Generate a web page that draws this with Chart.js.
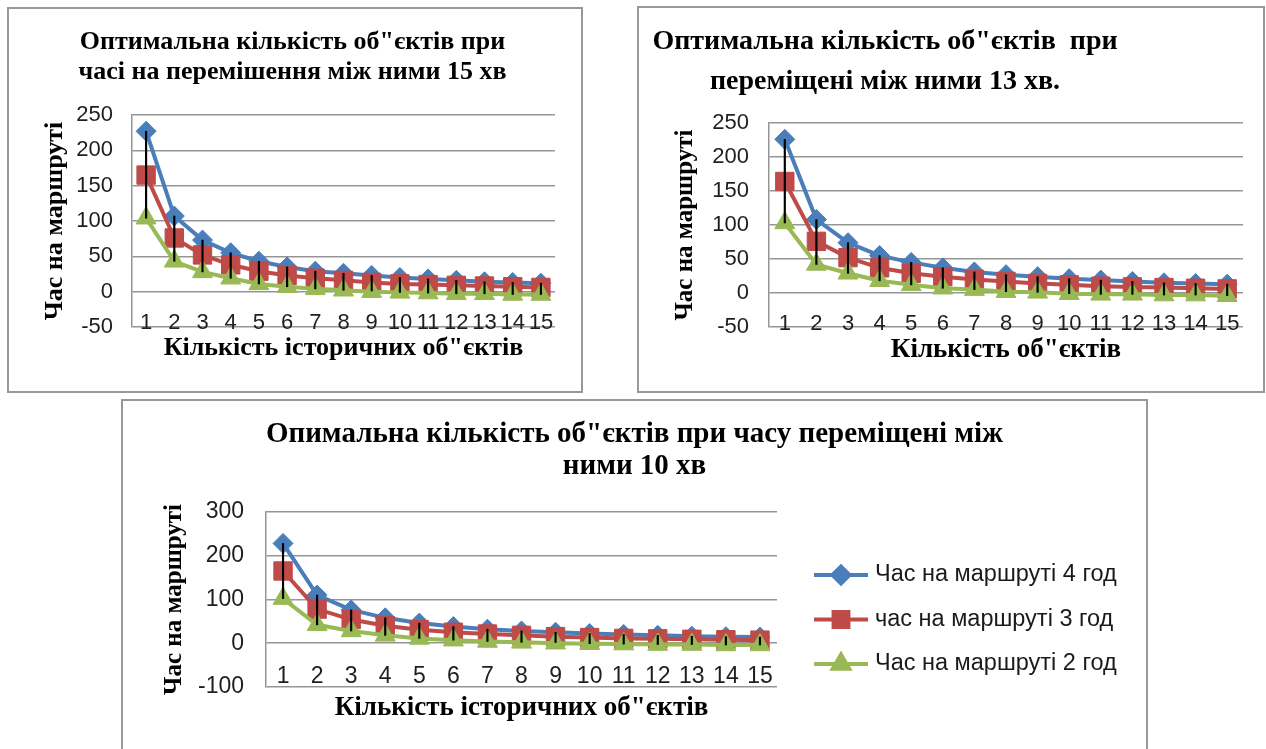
<!DOCTYPE html>
<html>
<head>
<meta charset="utf-8">
<script src="https://cdn.jsdelivr.net/npm/chart.js@4.4.1/dist/chart.umd.min.js"></script>
<style>
  html, body { margin: 0; padding: 0; background: #fff; overflow: hidden; }
  body { width: 1266px; height: 749px; position: relative; }
  .box { position: absolute; box-sizing: border-box; border: 2px solid #999; background: #fff; }
  .box canvas { display: block; }
  #box15 { left: 7px; top: 7px; width: 576px; height: 386px; }
  #box13 { left: 637px; top: 6px; width: 628px; height: 387px; }
  #box10 { left: 121px; top: 399px; width: 1027px; height: 362px; }
</style>
</head>
<body>
<div class="box" id="box15"><canvas id="chart15" width="572" height="382"></canvas></div>
<div class="box" id="box13"><canvas id="chart13" width="624" height="383"></canvas></div>
<div class="box" id="box10"><canvas id="chart10" width="1023" height="348"></canvas></div>
<script>
// categories: кількість об'єктів
const categories = ["1", "2", "3", "4", "5", "6", "7", "8", "9", "10", "11", "12", "13", "14", "15"];

const seriesNames = ["Час на маршруті 4 год", "час на маршруті 3 год", "Час на маршруті 2 год"];

// 15 хв між об'єктами
const blue15 = [227, 107, 73, 55, 43, 35, 29, 26, 23, 20, 18, 16, 14, 13, 12];
const red15 = [165, 76, 52, 38, 29, 23, 19, 16, 13, 11, 10, 9, 8, 7, 6];
const green15 = [104, 43, 28, 19, 11, 7, 4, 2, 0, -1, -2, -3, -3, -4, -4];

// 13 хв
const blue13 = [226, 108, 74, 55, 45, 37, 31, 27, 24, 21, 19, 17, 15, 14, 13];
const red13 = [164, 76, 52, 37, 29, 24, 20, 17, 14, 12, 10, 9, 8, 7, 6];
const green13 = [103, 42, 29, 18, 12, 7, 5, 2, 1, -1, -2, -2, -3, -3, -4];

// 10 хв
const blue10 = [228, 110, 76, 58, 46, 38, 32, 28, 25, 22, 20, 18, 16, 15, 14];
const red10 = [165, 78, 54, 40, 31, 25, 21, 18, 15, 13, 11, 10, 9, 8, 7];
const green10 = [102, 42, 28, 18, 11, 7, 4, 2, 0, -1, -2, -3, -3, -4, -4];

const yTicks15 = { min: -50, max: 250, step: 50 };
const yTicks13 = { min: -50, max: 250, step: 50 };
const yTicks10 = { min: -100, max: 300, step: 100 };

const serif = "'Liberation Serif', 'Times New Roman', serif";
const sans = "'Liberation Sans', Arial, sans-serif";
const gridGray = "#959595";

// shift the title horizontally without touching the plot area
const titleShift = {
    id: "titleShift",
    afterLayout(chart, args, opts) {
        const t = chart.titleBlock;
        if (t && opts.centerX != null) {
            const half = chart.width / 2;
            t.left = opts.centerX - half;
            t.right = opts.centerX + half;
        }
    }
};

// excel-like legend: line with marker, then the label
const lineLegend = {
    id: "lineLegend",
    afterDraw(chart, args, opts) {
        if (!opts.show) return;
        const ctx = chart.ctx;
        let y = opts.y;
        chart.data.datasets.forEach((ds, i) => {
            if (ds.type === "bar") return;
            ctx.save();
            ctx.strokeStyle = ds.borderColor;
            ctx.lineWidth = ds.borderWidth;
            ctx.beginPath();
            ctx.moveTo(opts.x, y);
            ctx.lineTo(opts.x + opts.lineLen, y);
            ctx.stroke();
            ctx.fillStyle = ds.pointBackgroundColor;
            ctx.strokeStyle = ds.pointBorderColor;
            Chart.helpers.drawPoint(ctx, { pointStyle: ds.pointStyle, radius: opts.radius[i], borderWidth: 1, rotation: 0 }, opts.x + opts.lineLen / 2, y);
            ctx.fillStyle = "#1a1a1a";
            ctx.font = opts.size + "px " + sans;
            ctx.textBaseline = "middle";
            ctx.textAlign = "left";
            ctx.fillText(ds.label, opts.x + opts.lineLen + opts.gap, y);
            ctx.restore();
            y += opts.spacing;
        });
    }
};

function lineSet(label, data, color, style, radius, order) {
    return {
        type: "line", label: label, data: data, order: order,
        borderColor: color, borderWidth: 4, tension: 0,
        pointStyle: style, pointRadius: radius, pointHoverRadius: radius,
        pointBackgroundColor: color, pointBorderColor: color, pointBorderWidth: 1
    };
}

function renderChart(canvasId, s) {
    const ctx = document.getElementById(canvasId);
    const hiLo = s.blue.map((b, i) => [s.green[i], b]);
    new Chart(ctx.getContext("2d"), {
        type: "line",
        data: {
            labels: categories,
            datasets: [
                lineSet(seriesNames[0], s.blue, "#4a7ebb", "rectRot", 10, 3),
                lineSet(seriesNames[1], s.red, "#be4b48", "rect", 13, 2),
                lineSet(seriesNames[2], s.green, "#98b954", "triangle", 11.5, 1),
                { type: "bar", label: "hi-lo", data: hiLo, order: 0, backgroundColor: "#000", barThickness: 1.5, grouped: false }
            ]
        },
        options: {
            responsive: false,
            animation: false,
            layout: { padding: s.pad },
            scales: {
                x: {
                    offset: true,
                    grid: { display: false, drawTicks: false },
                    border: { display: false },
                    ticks: { mirror: true, padding: s.xLabelPad, color: "#1e1e1e", font: { family: sans, size: s.tickSize }, maxRotation: 0, autoSkip: false },
                    title: { display: true, text: s.xTitle, color: "#000", font: { family: serif, weight: "bold", size: s.xTitleSize }, padding: { top: 0, bottom: 4 } },
                    afterFit: scale => { scale.height = s.xHeight; }
                },
                y: {
                    min: s.ticks.min, max: s.ticks.max,
                    grid: { color: gridGray, lineWidth: 1.5, drawTicks: false },
                    border: { display: true, color: gridGray, width: 1.5 },
                    ticks: { stepSize: s.ticks.step, padding: s.yLabelPad, color: "#1e1e1e", font: { family: sans, size: s.tickSize } },
                    title: { display: true, text: "Час на маршруті", color: "#000", font: { family: serif, weight: "bold", size: s.yTitleSize }, padding: { top: 4, bottom: 0 } },
                    afterFit: scale => { scale.width = s.yWidth; }
                }
            },
            plugins: {
                legend: { display: false },
                tooltip: { enabled: false },
                title: {
                    display: true, text: s.title, color: "#000",
                    font: { family: serif, weight: "bold", size: s.titleSize, lineHeight: s.titleLH },
                    padding: s.titlePad
                },
                titleShift: { centerX: s.titleX },
                lineLegend: s.legend || { show: false }
            }
        },
        plugins: [titleShift, lineLegend]
    });
}

renderChart("chart15", {
    blue: blue15, red: red15, green: green15, ticks: yTicks15,
    title: ["Оптимальна кількість об\"єктів при", "часі на перемішення між ними 15 хв"],
    titleSize: 26, titleLH: 1.154, titlePad: { top: 18, bottom: 28 }, titleX: 283.5,
    xTitle: "Кількість історичних об\"єктів", xTitleSize: 26, yTitleSize: 26, tickSize: 22,
    pad: { left: 27, right: 26, top: 0, bottom: 23.4 },
    yWidth: 96, xHeight: 40.6, xLabelPad: -9.2, yLabelPad: 19
});

renderChart("chart13", {
    blue: blue13, red: red13, green: green13, ticks: yTicks13,
    title: ["Оптимальна кількість об\"єктів  при", "переміщені між ними 13 хв."],
    titleSize: 28, titleLH: 1.4286, titlePad: { top: 14, bottom: 21 }, titleX: 246,
    xTitle: "Кількість об\"єктів", xTitleSize: 27, yTitleSize: 25, tickSize: 22,
    pad: { left: 28, right: 20, top: 0, bottom: 20.8 },
    yWidth: 102, xHeight: 43.2, xLabelPad: -10.2, yLabelPad: 20
});

renderChart("chart10", {
    blue: blue10, red: red10, green: green10, ticks: yTicks10,
    title: ["Опимальна кількість об\"єктів при часу переміщені між", "ними 10 хв"],
    titleSize: 29, titleLH: 1.093, titlePad: { top: 18, bottom: 29.5 }, titleX: 511.5,
    xTitle: "Кількість історичних об\"єктів", xTitleSize: 27, yTitleSize: 25, tickSize: 23,
    pad: { left: 33, right: 369, top: 0, bottom: 20.8 },
    yWidth: 110, xHeight: 41.2, xLabelPad: -3.5, yLabelPad: 22,
    legend: { show: true, x: 691, y: 174, lineLen: 54, gap: 7, spacing: 44.5, radius: [8.5, 10.5, 9.5], size: 23.5 }
});
</script>
</body>
</html>
